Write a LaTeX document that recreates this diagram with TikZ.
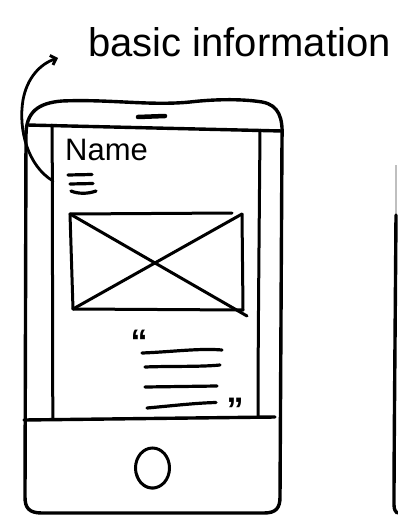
\documentclass[tikz,border=0pt]{standalone}
\usepackage{fontspec}
\setmainfont{Liberation Sans}
\usetikzlibrary{arrows.meta}
\tikzset{
  pen/.style={line width=3.4pt, line cap=round, line join=round},
  thinpen/.style={line width=3pt, line cap=round, line join=round},
  textline/.style={line width=3.2pt, line cap=round},
  label/.style={inner sep=0pt, anchor=base west},
}
\begin{document}
\begin{tikzpicture}[x=1pt,y=-1pt]
\useasboundingbox[fill=white] (0,0) rectangle (397,516);
% annotation
\node[label, font=\fontsize{40}{40}\selectfont] (info) at (88,57) {basic information};
% phone outline
\draw[pen] (26,135) .. controls (26,112) and (38,103) .. (62,101)
  .. controls (110,99) and (150,106) .. (190,102)
  .. controls (225,98) and (250,100) .. (262,102)
  .. controls (279,105) and (283,118) .. (282,138)
  -- (280,497) .. controls (280,508) and (276,513) .. (264,513)
  -- (42,513) .. controls (29,513) and (25,508) .. (25,497) -- cycle;
% speaker
\draw[line width=4.5pt, line cap=round] (138,117) -- (165,116);
% dividers
\coordinate (topL) at (27,125);
\coordinate (topR) at (282,131);
\draw[pen] (topL) -- (topR);
\coordinate (botL) at (24,420);
\coordinate (botR) at (275,417);
\draw[pen] (botL) -- (botR);
% screen side lines
\draw[thinpen] (52,125) .. controls (53,250) and (52,350) .. (53,419);
\draw[thinpen] (260,130) .. controls (259,250) and (258,350) .. (258,417);
% name and menu
\node[label, font=\fontsize{31}{31}\selectfont] (name) at (65,160) {Name};
\coordinate (menu) at (68,183);
\draw[textline] (68,175) -- (92,174.5);
\draw[textline] (70,184) -- (93,183.5);
\draw[textline] (71,191) .. controls (78,194) and (88,194) .. (96,191);
% arrow to annotation
\coordinate (astart) at (53,181);
\coordinate (atip) at (58,58);
\draw[line width=2.8pt, line cap=round, -{Straight Barb[length=5pt,width=10pt]}]
  (astart) .. controls (28,166) and (18,130) .. (23,100)
  .. controls (27,78) and (40,64) .. (atip);
% image placeholder
\coordinate (iTL) at (70,214);
\coordinate (iTR) at (242,214);
\coordinate (iBL) at (73,309);
\coordinate (iBR) at (243,310);
\draw[thinpen] (iTL) -- (232,213);
\draw[thinpen] (iTR) -- (iBR);
\draw[thinpen] (iTL) -- (iBL);
\draw[thinpen] (iBL) -- (iBR);
\draw[thinpen] (iTL) -- (247,316);
\draw[thinpen] (iBL) -- (iTR);
% quote
\node[inner sep=0pt, font=\fontsize{34}{34}\selectfont\bfseries] (oq) at (139,342) {“};
\draw[textline] (142,353) .. controls (170,352) and (200,348) .. (222,350);
\draw[textline] (145,367) .. controls (170,366) and (200,367) .. (220,365);
\draw[textline] (145,387) -- (217,386);
\draw[textline] (147,408) .. controls (170,406) and (195,403) .. (216,402.5);
\node[inner sep=0pt, font=\fontsize{34}{34}\selectfont\bfseries] (cq) at (235,410) {”};
% home button
\draw[line width=3pt] (152.5,468) ellipse [x radius=17, y radius=20];
\draw[line width=2pt] (137,474) .. controls (139,484) and (146,490) .. (156,488);
% next phone edge
\draw[line width=1.4pt, gray!50] (396,165) -- (396,215);
\draw[pen] (396,215) .. controls (395,350) and (394,450) .. (394,505) .. controls (394,510) and (396,512) .. (397,513);
\end{tikzpicture}
\end{document}
